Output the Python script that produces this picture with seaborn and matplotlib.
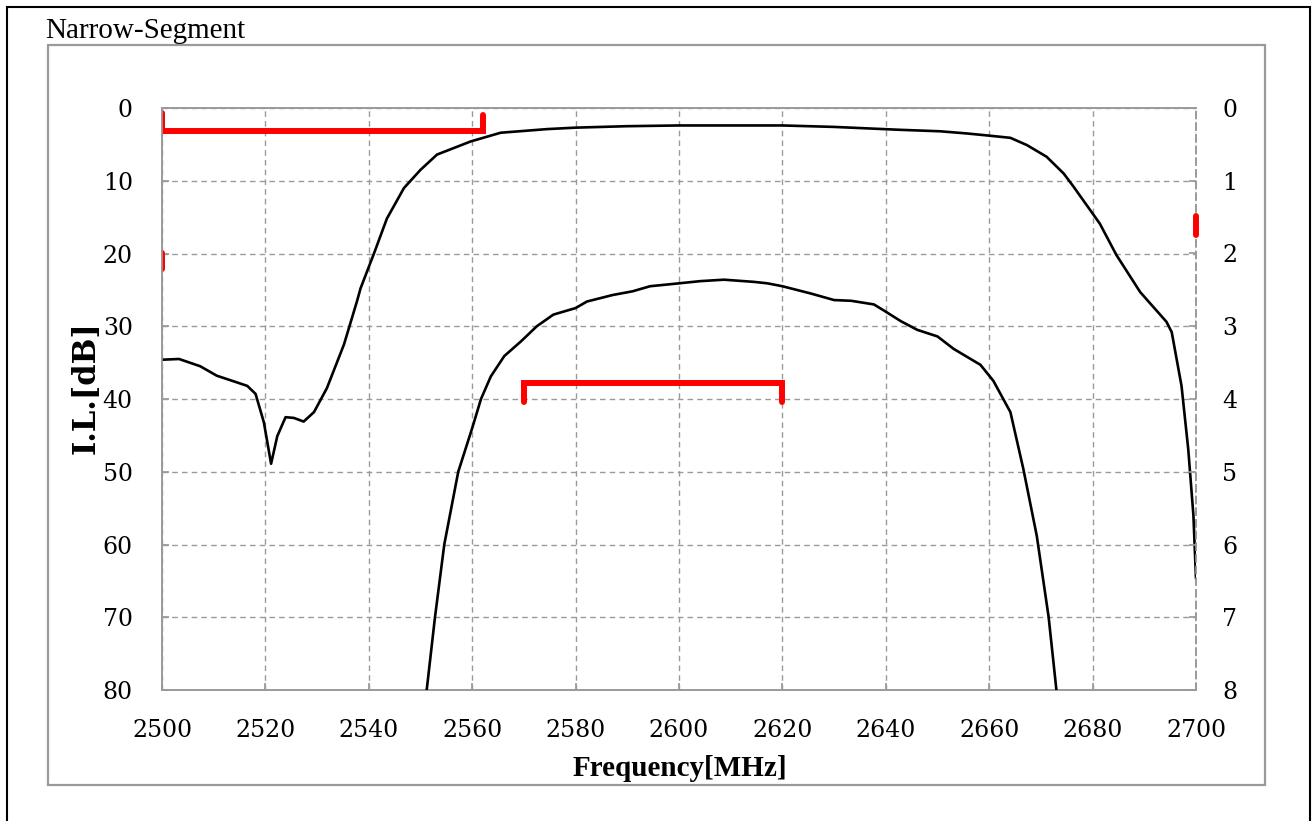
import matplotlib
matplotlib.use("Agg")
import matplotlib.pyplot as plt
import seaborn as sns
from matplotlib.patches import Rectangle

# wide-span curve (left axis, attenuation in dB)
freq_wide = [2500, 2503.3, 2507.4, 2510.6, 2514, 2516.5, 2518.1, 2519.7, 2521.1, 2522.3,
             2523.9, 2525.5, 2527.4, 2529.4, 2531.9, 2535.2, 2537.7, 2538.4, 2541, 2543.5,
             2546.8, 2550, 2553.2, 2559.7, 2565.5, 2574.5, 2580, 2590, 2600, 2610,
             2620, 2630, 2642.8, 2650.5, 2655.7, 2660, 2664.1, 2667.3, 2671.1, 2674.4,
             2676.3, 2680, 2681.4, 2684.6, 2689.2, 2694.3, 2695.3, 2697.2, 2698.5, 2699.5,
             2700]
il_wide = [34.6, 34.5, 35.5, 36.8, 37.6, 38.2, 39.3, 43.2, 48.9, 45.1,
           42.5, 42.6, 43.1, 41.8, 38.5, 32.5, 26.6, 24.8, 20.0, 15.2,
           11.0, 8.5, 6.4, 4.6, 3.4, 2.9, 2.7, 2.5, 2.4, 2.4,
           2.4, 2.6, 3.0, 3.2, 3.5, 3.8, 4.1, 5.1, 6.7, 9.0,
           10.8, 14.5, 15.9, 20.2, 25.3, 29.4, 30.8, 38.2, 46.9, 56.0,
           64.7]

# passband curve (right axis, insertion loss in dB)
freq_narrow = [2551.2, 2552.8, 2554.6, 2557.3, 2560, 2561.7, 2563.6, 2566.2, 2569.4, 2572.5,
               2575.7, 2580, 2582.2, 2587.2, 2591, 2594.4, 2600, 2604.1, 2608.7, 2614.5,
               2617.1, 2620, 2625.5, 2630, 2633.3, 2637.7, 2640, 2642.9, 2646.1, 2650,
               2653.1, 2658.3, 2660.8, 2664.1, 2666.6, 2669.2, 2671.5, 2673]
il_narrow = [8.0, 7.0, 6.0, 5.0, 4.4, 4.0, 3.69, 3.41, 3.21, 3.0,
             2.84, 2.75, 2.66, 2.57, 2.52, 2.45, 2.41, 2.38, 2.36, 2.39,
             2.41, 2.45, 2.55, 2.64, 2.65, 2.70, 2.80, 2.93, 3.05, 3.14,
             3.31, 3.53, 3.75, 4.18, 4.96, 5.88, 7.0, 8.0]

# spec marks
spec_top_f = [2500, 2500, 2562, 2562]
spec_top_db = [0.7, 3.1, 3.1, 0.9]
spec_left_f = [2500, 2500]
spec_left_db = [19.9, 22.1]
spec_right_f = [2700, 2700]
spec_right_db = [1.49, 1.74]
spec_pass_f = [2570, 2570, 2620, 2620]
spec_pass_db = [4.04, 3.78, 3.78, 4.04]

x_ticks = list(range(2500, 2701, 20))
left_ticks = list(range(0, 81, 10))
right_ticks = list(range(0, 9))

sns.set_theme(style="white")
plt.rcParams["font.family"] = ["Liberation Serif", "DejaVu Serif"]
plt.rcParams["text.color"] = "black"
plt.rcParams["axes.labelcolor"] = "black"
plt.rcParams["xtick.color"] = "black"
plt.rcParams["ytick.color"] = "black"

GRAY = "#9a9a9a"

fig = plt.figure(figsize=(13.15, 8.21), dpi=100)
ax = fig.add_axes([162 / 1315, 1 - 690 / 821, 1034 / 1315, 582 / 821])
ax2 = ax.twinx()

sns.lineplot(x=freq_wide, y=il_wide, ax=ax, color="black", linewidth=1.9,
             sort=False, estimator=None)
sns.lineplot(x=freq_narrow, y=il_narrow, ax=ax2, color="black", linewidth=1.9,
             sort=False, estimator=None)

red_kw = dict(color="#ff0000", linewidth=4.3, solid_capstyle="round",
              solid_joinstyle="miter", zorder=5)
ax.plot(spec_top_f, spec_top_db, **red_kw)
ax.plot(spec_left_f, spec_left_db, **red_kw)
ax2.plot(spec_right_f, spec_right_db, clip_on=False, **red_kw)
ax2.plot(spec_pass_f, spec_pass_db, **red_kw)

ax.set_xlim(2500, 2700)
ax.set_ylim(80, 0)
ax2.set_ylim(8, 0)
ax.set_xticks(x_ticks)
ax.set_yticks(left_ticks)
ax2.set_yticks(right_ticks)

ax.grid(True, linestyle=(0, (4, 3)), color=GRAY, linewidth=1.0)
ax2.grid(False)

for a in (ax, ax2):
    for side, sp in a.spines.items():
        sp.set_color(GRAY)
        sp.set_linewidth(1.2)
        sp.set_zorder(1)
    a.spines["right"].set_linestyle((0, (4, 3)))

ax.tick_params(axis="x", direction="in", length=5, color=GRAY, labelcolor="black",
               labelsize=17, pad=21, bottom=True)
ax.tick_params(axis="y", direction="in", length=5, color=GRAY, labelcolor="black",
               labelsize=17, pad=21, left=True)
ax2.tick_params(axis="y", direction="in", length=5, color=GRAY, labelcolor="black",
                labelsize=17, pad=19, right=True)
for lab in ax.get_xticklabels() + ax.get_yticklabels() + ax2.get_yticklabels():
    lab.set_fontfamily("DejaVu Serif")

ax.set_xlabel("Frequency[MHz]", fontsize=21, fontweight="bold", color="black")
ax.xaxis.set_label_coords(0.501, -0.111)
ax.set_ylabel("I.L.[dB]", fontsize=22, fontweight="bold", color="black",
              family="DejaVu Serif")
ax.yaxis.set_label_coords(-0.058, 0.52)
ax2.set_ylabel("")

fig.text(45 / 1315, 1 - 38 / 821, "Narrow-Segment", fontsize=21, va="baseline",
         ha="left", color="black")

# outer frames
fig.add_artist(Rectangle((47.7 / 1315, 1 - 785 / 821), (1265 - 47.7) / 1315,
                         (785 - 45) / 821, transform=fig.transFigure, fill=False,
                         edgecolor=GRAY, linewidth=1.6))
fig.add_artist(Rectangle((7 / 1315, -0.02), (1310 - 7) / 1315, 1.02 - 7 / 821,
                         transform=fig.transFigure, fill=False,
                         edgecolor="black", linewidth=1.5))

fig.savefig("out.png", dpi=100)
